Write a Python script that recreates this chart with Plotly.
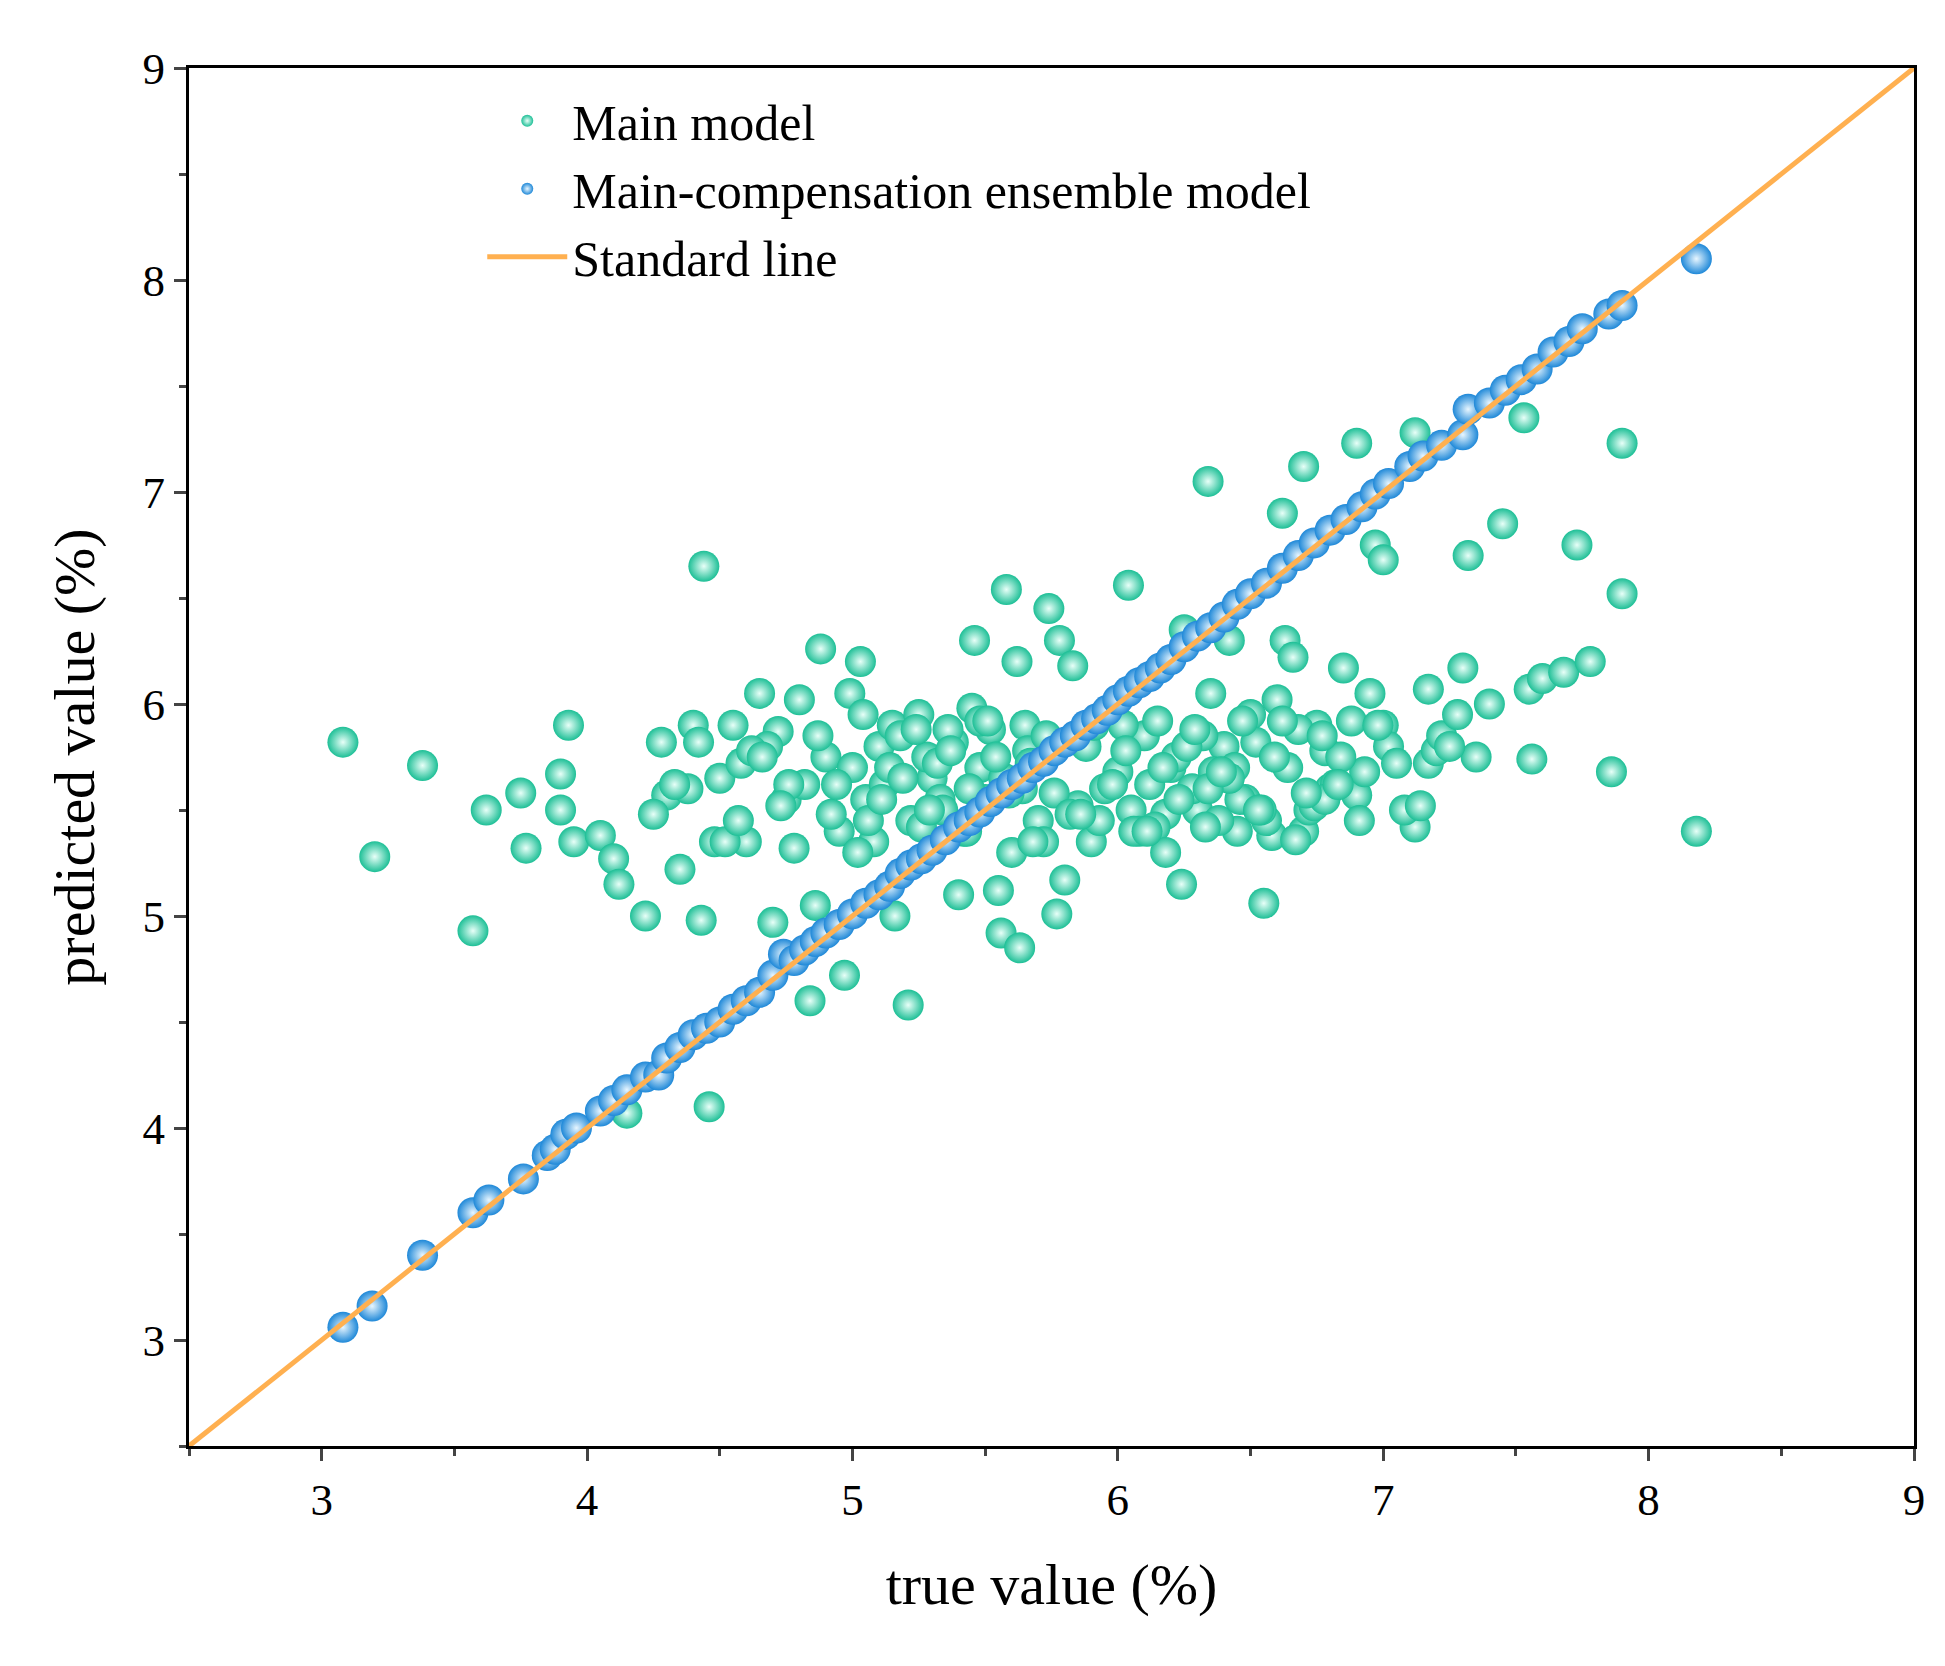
import plotly.graph_objects as go

# Main model (green) points: true, predicted
main_true = [3.08, 3.2, 3.38, 3.57, 3.62, 3.75, 3.77, 3.9, 3.9, 3.93, 3.95, 4.05, 4.1, 4.12, 4.15, 4.22,
             4.28, 4.3, 4.35, 4.4, 4.43, 4.44, 4.46, 4.5, 4.55, 4.6, 4.65, 4.7, 4.72, 4.75, 4.8, 4.84,
             4.88, 4.9, 4.95, 4.97, 4.99, 5.03, 5.05, 5.1, 5.15, 5.21, 5.25, 5.3, 5.4, 5.45, 5.46, 5.5,
             5.55, 5.56, 5.58, 5.6, 5.62, 5.63, 5.65, 5.7, 5.74, 5.77, 5.78, 5.8, 5.83, 5.9, 5.95, 6.04,
             6.05, 6.1, 6.2, 6.24, 6.25, 6.3, 6.34, 6.35, 6.4, 6.42, 6.45, 6.5, 6.55, 6.6, 6.62, 6.63,
             6.66, 6.7, 6.7, 6.75, 6.8, 6.85, 6.9, 6.9, 6.95, 6.97, 7.0, 7.0, 7.12, 7.12, 7.17, 7.2,
             7.17, 7.3, 7.32, 7.4, 7.45, 7.53, 7.55, 7.56, 7.6, 7.68, 7.73, 7.78, 7.86, 7.9, 7.9, 8.18,
             4.25, 4.38, 4.48, 4.58, 4.68, 4.78, 4.82, 4.92, 5.0, 5.08, 5.12, 5.18, 5.22, 5.28, 5.33,
             5.38, 5.42, 5.48, 5.52, 5.57, 5.66, 5.72, 5.85, 5.88, 5.93, 6.0, 6.08, 6.12, 6.15, 6.18,
             6.22, 6.28, 6.32, 6.38, 6.44, 6.48, 6.52, 6.58, 6.64, 6.68, 6.72, 6.78, 6.82, 6.88, 6.93,
             7.02, 7.08, 7.22, 7.28, 7.35, 4.86, 5.02, 5.14, 5.26, 5.36, 5.44, 5.54, 5.68, 5.76, 6.02,
             6.14, 6.26, 6.36, 6.46, 6.56, 6.74, 6.84, 4.62, 4.76, 5.06, 5.16, 5.32, 5.64, 5.82, 6.06,
             6.42, 6.62, 6.78, 4.52, 5.34, 5.48, 6.18, 6.34, 6.54,
             4.33, 4.42, 4.57, 4.66, 4.73, 4.87, 4.94, 5.04, 5.11, 5.19, 5.24, 5.29, 5.37, 5.43, 5.51,
             5.59, 5.67, 5.73, 5.86, 5.91, 5.98, 6.03, 6.11, 6.17, 6.23, 6.29, 6.33, 6.39, 6.47, 6.53,
             6.59, 6.67, 6.71, 6.77, 6.83, 6.91, 6.98, 7.05, 7.14, 7.25]
main_pred = [5.82, 5.28, 5.71, 4.93, 5.5, 5.58, 5.32, 5.5, 5.67, 5.9, 5.35, 5.38, 5.27, 5.15, 4.07, 5.0,
             5.82, 5.57, 5.22, 5.9, 4.98, 6.65, 4.1, 5.65, 5.9, 5.35, 6.05, 4.97, 5.87, 5.55, 6.02, 4.6,
             6.26, 5.75, 5.4, 4.72, 6.05, 6.2, 5.55, 5.8, 5.9, 4.58, 5.95, 5.65, 5.1, 5.98, 6.3, 5.55,
             5.12, 4.92, 6.54, 5.3, 6.2, 4.85, 5.9, 5.45, 6.45, 5.01, 6.3, 5.17, 6.18, 5.35, 5.6, 6.56,
             5.5, 5.85, 5.7, 5.15, 6.35, 5.5, 7.05, 6.05, 5.8, 6.3, 5.4, 5.95, 5.06, 6.02, 6.9, 6.3,
             6.22, 7.12, 5.4, 5.9, 5.6, 6.17, 7.23, 5.57, 6.05, 6.75, 6.68, 5.9, 7.28, 5.42, 5.72, 5.78,
             6.07, 6.17, 6.7, 6.0, 6.85, 7.35, 6.07, 5.74, 6.12, 6.15, 6.75, 6.2, 5.68, 6.52, 7.23, 5.4,
             5.48, 5.6, 5.35, 5.72, 5.8, 5.32, 5.62, 5.48, 5.7, 5.35, 5.62, 5.85, 5.45, 5.75, 5.55,
             5.82, 5.4, 5.7, 5.88, 5.65, 5.78, 5.35, 5.52, 5.8, 5.45, 5.68, 5.4, 5.62, 5.92, 5.48,
             5.75, 5.6, 5.85, 5.45, 5.7, 5.55, 5.82, 5.38, 5.7, 5.88, 5.5, 5.78, 5.62, 5.92, 5.68,
             5.8, 5.5, 5.85, 5.95, 5.75, 5.05, 5.3, 5.7, 5.42, 5.88, 5.6, 5.75, 5.35, 5.58, 5.9,
             5.42, 5.8, 5.68, 5.55, 5.45, 5.52, 5.75, 5.78, 5.62, 5.45, 5.0, 5.72, 5.6, 5.48, 5.4, 5.65,
             5.92, 5.55, 5.35, 5.5, 5.92, 5.3, 5.6, 5.5, 5.62, 5.82,
             5.45, 5.75, 5.52, 5.85, 5.62, 5.95, 5.55, 5.65, 5.88, 5.5, 5.78, 5.4, 5.92, 5.58, 5.72,
             5.85, 5.48, 5.9, 5.62, 5.78, 5.4, 5.7, 5.55, 5.88, 5.42, 5.68, 5.92, 5.5, 5.75, 5.36,
             5.58, 5.85, 5.62, 5.45, 5.9, 5.72, 5.52, 5.8, 5.65, 5.88]

# Main-compensation ensemble model (blue) points
ens_true = [3.08, 3.19, 3.38, 3.57, 3.63, 3.76, 3.85, 3.88, 3.92, 3.96, 4.05, 4.1, 4.15, 4.22, 4.27,
            4.3, 4.35, 4.4, 4.45, 4.5, 4.55, 4.6, 4.65, 4.7, 4.74, 4.78, 4.82, 4.86, 4.9, 4.95, 5.0,
            5.05, 5.1, 5.14, 5.18, 5.22, 5.26, 5.3, 5.35, 5.4, 5.44, 5.48, 5.52, 5.56, 5.6, 5.64,
            5.68, 5.72, 5.76, 5.8, 5.84, 5.88, 5.92, 5.96, 6.0, 6.04, 6.08, 6.12, 6.16, 6.2, 6.25,
            6.3, 6.35, 6.4, 6.45, 6.5, 6.56, 6.62, 6.68, 6.74, 6.8, 6.86, 6.92, 6.97, 7.02, 7.1,
            7.15, 7.22, 7.3, 7.32, 7.4, 7.46, 7.52, 7.58, 7.64, 7.7, 7.75, 7.85, 7.9, 8.18]
ens_pred = [3.06, 3.16, 3.4, 3.6, 3.66, 3.76, 3.87, 3.9, 3.97, 4.0, 4.08, 4.13, 4.18, 4.24, 4.25,
            4.33, 4.38, 4.44, 4.47, 4.5, 4.56, 4.6, 4.64, 4.72, 4.82, 4.79, 4.84, 4.88, 4.92, 4.96, 5.01,
            5.06, 5.1, 5.14, 5.2, 5.24, 5.27, 5.31, 5.36, 5.42, 5.45, 5.49, 5.54, 5.58, 5.62, 5.65,
            5.7, 5.73, 5.78, 5.82, 5.85, 5.9, 5.93, 5.97, 6.02, 6.06, 6.1, 6.13, 6.17, 6.21, 6.27,
            6.32, 6.36, 6.41, 6.47, 6.52, 6.57, 6.64, 6.7, 6.76, 6.82, 6.87, 6.93, 6.99, 7.04, 7.12,
            7.17, 7.22, 7.27, 7.39, 7.42, 7.48, 7.53, 7.58, 7.66, 7.71, 7.77, 7.84, 7.88, 8.1]

std_line = [2.5, 9]

font = "Liberation Serif"

fig = go.Figure()
fig.add_trace(go.Scatter(
    x=main_true, y=main_pred, mode="markers", name="Main model",
    marker=dict(size=31, color="#1dbf96", gradient=dict(type="radial", color="#e8fff8"),
                line=dict(width=0))))
fig.add_trace(go.Scatter(
    x=ens_true, y=ens_pred, mode="markers", name="Main-compensation ensemble model",
    marker=dict(size=31, color="#1e88d8", gradient=dict(type="radial", color="#e8f6ff"),
                line=dict(width=0))))
fig.add_trace(go.Scatter(
    x=std_line, y=std_line, mode="lines", name="Standard line",
    line=dict(color="#ffb050", width=5)))

axis = dict(range=[2.5, 9], dtick=1, ticks="outside", ticklen=12, tickwidth=3,
            showline=True, linewidth=3, linecolor="black", mirror=True,
            showgrid=False, zeroline=False,
            minor=dict(dtick=0.5, ticks="outside", ticklen=7, tickwidth=3),
            tickfont=dict(family=font, size=45, color="black"))

fig.update_layout(
    width=1945, height=1666,
    margin=dict(l=181, r=39, t=60, b=228),
    paper_bgcolor="white", plot_bgcolor="white",
    xaxis=dict(axis, title=dict(text="true value (%)", standoff=40,
                                font=dict(family=font, size=58, color="black"))),
    yaxis=dict(axis, title=dict(text="predicted value (%)", standoff=30,
                                font=dict(family=font, size=58, color="black"))),
    legend=dict(x=0.17, y=0.99, xanchor="left", yanchor="top", bgcolor="rgba(0,0,0,0)",
                font=dict(family=font, size=50, color="black"), itemwidth=80,
                itemsizing="constant", tracegroupgap=0),
    showlegend=True,
)

fig.write_html("out.html")
